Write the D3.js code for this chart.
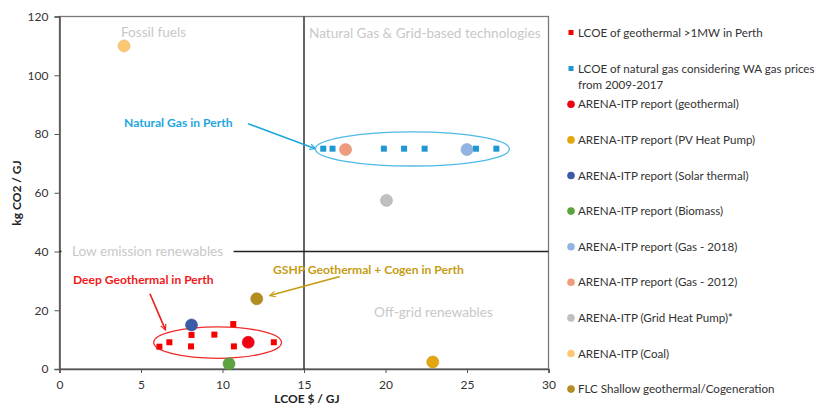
<!DOCTYPE html>
<html>
<head>
<meta charset="utf-8">
<script src="https://cdn.jsdelivr.net/npm/d3@7"></script>
<style>
  body { margin: 0; background: #fff; }
  text { font-family: Lato, "Open Sans", sans-serif; }
</style>
</head>
<body>
<script>
// data (x = LCOE $/GJ, y = kg CO2/GJ)
const geoX = [6.13, 6.74, 8.1, 8.07, 9.5, 10.66, 10.7, 13.15];
const geoY = [7.6, 9.1, 11.6, 7.7, 11.7, 15.3, 7.7, 9.1];

const gasX = [16.18, 16.75, 19.9, 21.14, 22.4, 25.55, 26.8];
const gasY = [75, 75, 75, 75, 75, 75, 75];

const arenaNames = [
  'ARENA-ITP report (geothermal)',
  'ARENA-ITP report (PV Heat Pump)',
  'ARENA-ITP report (Solar thermal)',
  'ARENA-ITP report (Biomass)',
  'ARENA-ITP report (Gas - 2018)',
  'ARENA-ITP report (Gas - 2012)',
  'ARENA-ITP (Grid Heat Pump)*',
  'ARENA-ITP (Coal)',
  'FLC Shallow geothermal/Cogeneration'
];
const arenaX = [11.58, 22.9, 8.1, 10.4, 25.0, 17.55, 20.06, 3.96, 12.1];
const arenaY = [9.1, 2.4, 15, 1.8, 74.7, 74.7, 57.4, 110, 23.9];
const arenaColors = ['#f00012', '#e3a60c', '#3b5ba6', '#5ba33e', '#93b3e2',
  '#ef9b7d', '#c0c0c0', '#fdc874', '#b48d20'];

const xTicks = [0, 5, 10, 15, 20, 25, 30];
const yTicks = [0, 20, 40, 60, 80, 100, 120];

let w = 821;
let h = 408;
let svg = d3.select('body').append('svg')
  .attr('width', w)
  .attr('height', h);

let x = d3.scaleLinear().domain([0, 30]).range([59.5, 548.5]);
let y = d3.scaleLinear().domain([0, 120]).range([369, 16.5]);

// frame
svg.append('rect')
  .attr('x', x(0)).attr('y', y(120))
  .attr('width', x(30) - x(0)).attr('height', y(0) - y(120))
  .attr('fill', 'none').attr('stroke', '#7a7a7a').attr('stroke-width', 1.3);

// axes
let xAxis = svg.append('g')
  .attr('transform', `translate(0,${y(0)})`)
  .call(d3.axisBottom(x).tickValues(xTicks).tickSize(4).tickPadding(7));
let yAxis = svg.append('g')
  .attr('transform', `translate(${x(0)},0)`)
  .call(d3.axisLeft(y).tickValues(yTicks).tickSize(5).tickPadding(6));
[xAxis, yAxis].forEach(g => {
  g.select('.domain').attr('stroke', '#555').attr('stroke-width', 1.6);
  g.selectAll('.tick line').attr('stroke', '#555');
  g.selectAll('.tick text').attr('fill', '#333').style('font-size', '12px');
});

svg.append('text')
  .attr('x', 307).attr('y', 403)
  .attr('text-anchor', 'middle')
  .style('font-size', '12px').style('font-weight', 'bold').attr('fill', '#222')
  .text('LCOE $ / GJ');
svg.append('text')
  .attr('transform', 'translate(21,193) rotate(-90)')
  .attr('text-anchor', 'middle')
  .style('font-size', '12px').style('font-weight', 'bold').attr('fill', '#222')
  .text('kg CO2 / GJ');

// quadrant lines + labels
svg.append('line')
  .attr('x1', x(15)).attr('x2', x(15)).attr('y1', y(120)).attr('y2', y(0))
  .attr('stroke', '#222').attr('stroke-width', 1.4);
svg.append('line')
  .attr('x1', x(0)).attr('x2', x(30)).attr('y1', y(40)).attr('y2', y(40))
  .attr('stroke', '#222').attr('stroke-width', 1.4);
svg.append('rect')
  .attr('x', x(0) + 2).attr('y', y(40) - 9).attr('width', 172).attr('height', 18)
  .attr('fill', '#fff');

const quad = [
  { t: 'Fossil fuels', x: 121, y: 37 },
  { t: 'Natural Gas & Grid-based technologies', x: 309, y: 38 },
  { t: 'Low emission renewables', x: 72, y: 256 },
  { t: 'Off-grid renewables', x: 374, y: 317 }
];
svg.selectAll('.quad')
  .data(quad)
  .enter()
    .append('text')
    .attr('x', d => d.x).attr('y', d => d.y)
    .style('font-size', '13.6px').attr('fill', '#c8c8c8')
    .text(d => d.t);

// arrows
let defs = svg.append('defs');
const arrowHead = (id, col) => {
  defs.append('marker')
    .attr('id', id)
    .attr('viewBox', '0 0 10 10')
    .attr('refX', 9).attr('refY', 5)
    .attr('markerWidth', 7).attr('markerHeight', 7)
    .attr('markerUnits', 'userSpaceOnUse')
    .attr('orient', 'auto')
    .append('path')
      .attr('d', 'M1,1 L9,5 L1,9')
      .attr('fill', 'none').attr('stroke', col).attr('stroke-width', 1.6);
};
const notes = [
  { t: 'Natural Gas in Perth', col: '#1ea6e0', tx: 124, ty: 127, x1: 11.57, y1: 83.5, x2: 15.7, y2: 75 },
  { t: 'Deep Geothermal in Perth', col: '#f01a1a', tx: 73, ty: 284, x1: 5.55, y1: 25.6, x2: 6.5, y2: 13.3 },
  { t: 'GSHP Geothermal + Cogen in Perth', col: '#c69c14', tx: 273, ty: 274, x1: 17.2, y1: 31.5, x2: 12.9, y2: 25 }
];
notes.forEach((n, i) => arrowHead('ah' + i, n.col));
svg.selectAll('.note-line')
  .data(notes)
  .enter()
    .append('line')
    .attr('x1', d => x(d.x1)).attr('y1', d => y(d.y1))
    .attr('x2', d => x(d.x2)).attr('y2', d => y(d.y2))
    .attr('stroke', d => d.col).attr('stroke-width', 1.6)
    .attr('marker-end', (d, i) => `url(#ah${i})`);
svg.selectAll('.note')
  .data(notes)
  .enter()
    .append('text')
    .attr('x', d => d.tx).attr('y', d => d.ty)
    .style('font-size', '12.1px').style('font-weight', 'bold')
    .attr('fill', d => d.col)
    .text(d => d.t);

// ellipses round the two clusters
const rings = [
  { cx: 21.65, cy: 74.9, rx: 5.95, ry: 5.8, col: '#4fb9e6' },
  { cx: 9.7, cy: 9.0, rx: 3.92, ry: 5.35, col: '#f02a2a' }
];
svg.selectAll('.ring')
  .data(rings)
  .enter()
    .append('ellipse')
    .attr('cx', d => x(d.cx)).attr('cy', d => y(d.cy))
    .attr('rx', d => x(d.rx) - x(0)).attr('ry', d => y(0) - y(d.ry))
    .attr('fill', 'none').attr('stroke', d => d.col).attr('stroke-width', 1.3);

// squares
const sq = 6;
svg.selectAll('.geo')
  .data(geoX.map((v, i) => [v, geoY[i]]))
  .enter()
    .append('rect')
    .attr('x', d => x(d[0]) - sq / 2).attr('y', d => y(d[1]) - sq / 2)
    .attr('width', sq).attr('height', sq)
    .attr('fill', '#f50000');
svg.selectAll('.gas')
  .data(gasX.map((v, i) => [v, gasY[i]]))
  .enter()
    .append('rect')
    .attr('x', d => x(d[0]) - sq / 2).attr('y', d => y(d[1]) - sq / 2)
    .attr('width', sq).attr('height', sq)
    .attr('fill', '#1f97d4');

// circles
svg.selectAll('.arena')
  .data(arenaX.map((v, i) => ({ x: v, y: arenaY[i], c: arenaColors[i] })))
  .enter()
    .append('circle')
    .attr('cx', d => x(d.x)).attr('cy', d => y(d.y))
    .attr('r', 6)
    .attr('fill', d => d.c)
    .attr('stroke', d => d3.color(d.c).darker(0.3)).attr('stroke-width', 0.6);

// legend
let legend = svg.append('g').attr('transform', 'translate(571,0)');
const legItems = [
  { t: ['LCOE of geothermal >1MW in Perth'], c: '#f50000', sq: true, y: 32.5 },
  { t: ['LCOE of natural gas considering WA gas prices', 'from 2009-2017'], c: '#1f97d4', sq: true, y: 68.5 }
].concat(arenaNames.map((n, i) => ({ t: [n], c: arenaColors[i], sq: false, y: 104.3 + i * 35.6 })));

legItems.forEach(d => {
  if (d.sq) {
    legend.append('rect')
      .attr('x', -2.5).attr('y', d.y - 2.5).attr('width', 5).attr('height', 5)
      .attr('fill', d.c);
  } else {
    legend.append('circle')
      .attr('cx', 0).attr('cy', d.y).attr('r', 3.8).attr('fill', d.c);
  }
  d.t.forEach((line, j) => {
    legend.append('text')
      .attr('x', 7).attr('y', d.y + 4 + j * 16)
      .style('font-size', '11.6px').attr('fill', '#333')
      .text(line);
  });
});
</script>
</body>
</html>
